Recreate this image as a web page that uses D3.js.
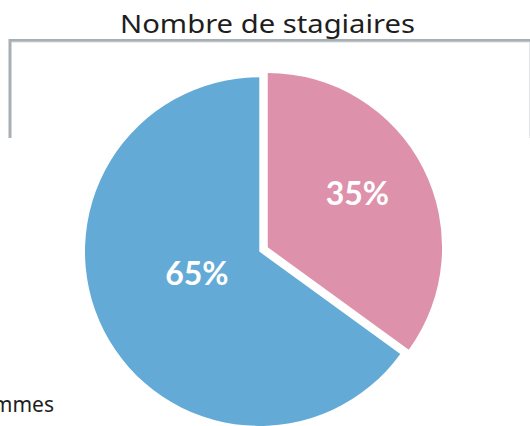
<!DOCTYPE html>
<html>
<head>
<meta charset="utf-8">
<script src="https://cdn.jsdelivr.net/npm/d3@7"></script>
<style>
  html, body { margin: 0; padding: 0; background: #fff; }
  svg { display: block; }
</style>
</head>
<body>
<svg id="chart" width="530" height="426"></svg>
<script>
// Répartition des stagiaires
const categories = ["Femmes", "Hommes"];
const values = [35, 65];
const colors = ["#de91ab", "#63aad7"];
const title = "Nombre de stagiaires";

const W = 530, H = 426;
const svg = d3.select("#chart");

// Cadre gris
const frame = svg.append("g");
frame.append("path")
  .attr("d", "M10,138 V40.5 H530")
  .attr("fill", "none").attr("stroke", "#a7afb4").attr("stroke-width", 3);
frame.append("path")
  .attr("d", "M11.5,138 V42 H530")
  .attr("fill", "none").attr("stroke", "#d3d8db").attr("stroke-width", 1);
frame.append("line")
  .attr("x1", 529.5).attr("x2", 529.5).attr("y1", 42).attr("y2", 138)
  .attr("stroke", "#e2e5e7").attr("stroke-width", 1);

// Titre
svg.append("text")
  .attr("x", 267.5).attr("y", 33)
  .attr("text-anchor", "middle")
  .attr("font-family", "'Noto Sans', sans-serif")
  .attr("font-size", 25)
  .attr("textLength", 295)
  .attr("lengthAdjust", "spacingAndGlyphs")
  .attr("fill", "#1e1e1e")
  .text(title);

// Camembert
const cx = 259.3, cy = 251.6, r = 174.3;
const explode = [9.5, 0];
const labelDist = [0.6, 0.38];

const pie = d3.pie().sort(null).value(d => d.v);
const arcs = pie(categories.map((c, i) => ({ c, v: values[i], i })));
const arc = d3.arc().innerRadius(0).outerRadius(r);

const g = svg.append("g").attr("transform", `translate(${cx},${cy})`);

const slices = g.selectAll("g.slice").data(arcs).join("g")
  .attr("class", "slice")
  .attr("transform", d => {
    const a = (d.startAngle + d.endAngle) / 2;
    const k = explode[d.data.i];
    return `translate(${Math.sin(a) * k},${-Math.cos(a) * k})`;
  });

slices.append("path")
  .attr("d", arc)
  .attr("fill", d => colors[d.data.i]);

slices.append("text")
  .attr("transform", d => {
    const a = (d.startAngle + d.endAngle) / 2 - (d.data.i === 0 ? 0.07 : -0.13);
    const rr = r * labelDist[d.data.i];
    return `translate(${Math.sin(a) * rr},${-Math.cos(a) * rr})`;
  })
  .attr("text-anchor", "middle")
  .attr("dy", "0.35em")
  .attr("font-family", "Lato, 'Noto Sans', sans-serif")
  .attr("font-weight", "bold")
  .attr("font-size", 32)
  .attr("fill", "#ffffff")
  .text(d => d.data.v + "%");

// Légende (partiellement hors cadre)
svg.append("text")
  .attr("x", 54).attr("y", 412)
  .attr("text-anchor", "end")
  .attr("font-family", "'Noto Sans', sans-serif")
  .attr("font-size", 21)
  .attr("fill", "#1e1e1e")
  .text(categories[1]);
</script>
</body>
</html>
